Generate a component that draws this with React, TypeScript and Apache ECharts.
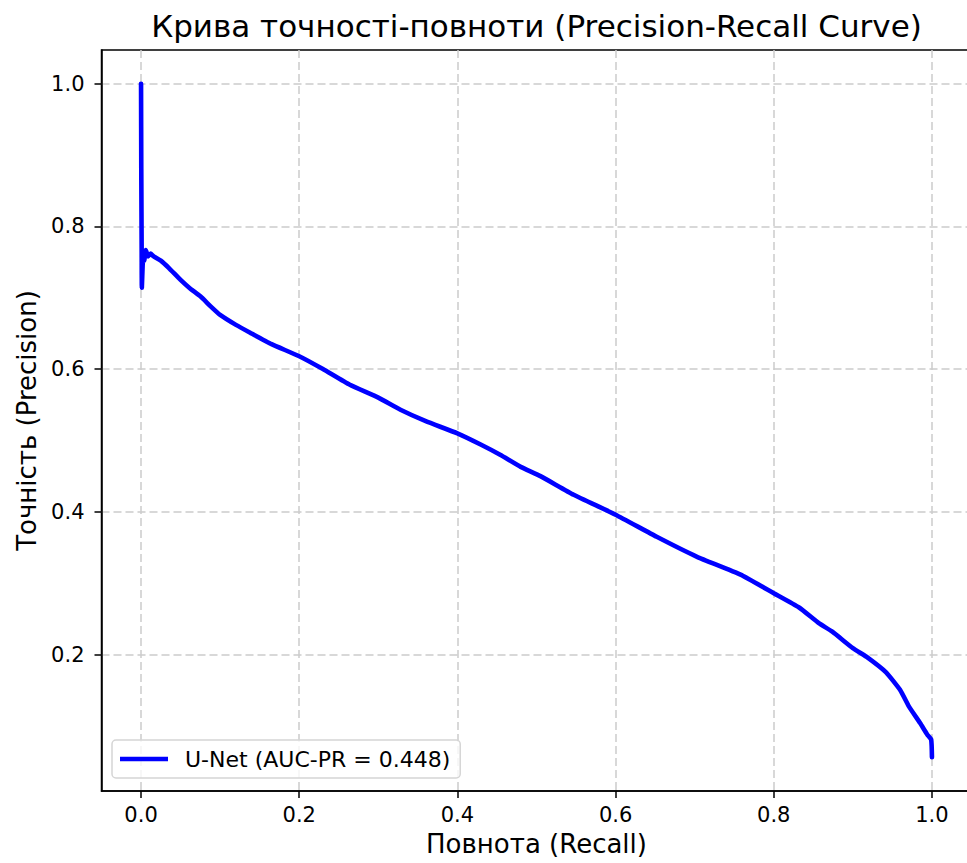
import React, { useEffect, useRef } from "react";
import * as echarts from "echarts";

const chartTitle = "Крива точності-повноти (Precision-Recall Curve)";
const xAxisName = "Повнота (Recall)";
const yAxisName = "Точність (Precision)";
const seriesName = "U-Net (AUC-PR = 0.448)";

const xTicks = [0, 0.2, 0.4, 0.6, 0.8, 1.0];
const yTicks = [0.2, 0.4, 0.6, 0.8, 1.0];

const recall = [
  0, 0.0003, 0.0008, 0.001, 0.002, 0.003, 0.004, 0.006, 0.009, 0.012, 0.016,
  0.025, 0.035, 0.05, 0.062, 0.075, 0.088, 0.1, 0.12, 0.138, 0.165, 0.2, 0.23,
  0.264, 0.3, 0.328, 0.36, 0.4, 0.43, 0.454, 0.48, 0.505, 0.547, 0.6, 0.652,
  0.703, 0.758, 0.8, 0.832, 0.857, 0.874, 0.9, 0.917, 0.942, 0.96, 0.971,
  0.985, 0.994, 0.999, 1.0,
];
const precision = [
  1.0, 0.88, 0.76, 0.714, 0.745, 0.76, 0.752, 0.767, 0.758, 0.762, 0.758,
  0.752, 0.742, 0.725, 0.713, 0.702, 0.688, 0.676, 0.662, 0.651, 0.635, 0.618,
  0.6, 0.578, 0.56, 0.543, 0.527, 0.51, 0.494, 0.48, 0.463, 0.45, 0.424, 0.396,
  0.365, 0.337, 0.312, 0.286, 0.266, 0.244, 0.232, 0.209, 0.197, 0.175, 0.15,
  0.127, 0.104, 0.088, 0.081, 0.056,
];

const FONT = "DejaVu Sans";

export default function App() {
  const ref = useRef<HTMLDivElement>(null);
  useEffect(() => {
    if (!ref.current) return;
    const chart = echarts.init(ref.current, null, { renderer: "svg" });
    const gridLine = {
      show: true,
      lineStyle: { color: "#cbcbcb", width: 1.5, type: [8, 4] as any },
    };
    chart.setOption({
      animation: false,
      backgroundColor: "#ffffff",
      title: {
        text: chartTitle,
        left: "center",
        top: 5,
        textStyle: {
          fontFamily: FONT,
          fontSize: 31,
          fontWeight: "normal",
          color: "#000",
        },
      },
      legend: {
        left: 112,
        top: 740,
        orient: "vertical",
        padding: [8, 10, 8, 8],
        icon: "rect",
        itemWidth: 48,
        itemHeight: 4.5,
        itemStyle: { color: "#0000ff", borderWidth: 0 },
        backgroundColor: "rgba(255,255,255,0.8)",
        borderColor: "#d5d5d5",
        borderWidth: 1.5,
        borderRadius: 4,
        textStyle: {
          fontFamily: FONT,
          fontSize: 22,
          color: "#000",
          padding: [0, 0, 0, 12],
        },
        data: [seriesName],
      },
      grid: {
        left: 101.5,
        right: 101.5,
        top: 50,
        bottom: 72,
        show: true,
        borderColor: "#000",
        borderWidth: 1.5,
        backgroundColor: "transparent",
      },
      xAxis: {
        type: "value",
        min: -0.05,
        max: 1.05,
        name: xAxisName,
        nameLocation: "middle",
        nameGap: 40,
        nameTextStyle: { fontFamily: FONT, fontSize: 26, color: "#000" },
        axisLine: { show: true, onZero: false, lineStyle: { color: "#000", width: 1.5 } },
        axisTick: {
          show: true,
          inside: false,
          length: 7,
          customValues: xTicks,
          lineStyle: { color: "#000", width: 1.5 },
        },
        axisLabel: {
          customValues: xTicks,
          margin: 13,
          fontFamily: FONT,
          fontSize: 21,
          color: "#000",
          formatter: (v: number) => v.toFixed(1),
        },
        splitLine: gridLine,
      },
      yAxis: {
        type: "value",
        min: 0.0088,
        max: 1.0472,
        name: yAxisName,
        nameLocation: "middle",
        nameGap: 60,
        nameTextStyle: { fontFamily: FONT, fontSize: 26, color: "#000" },
        axisLine: { show: true, onZero: false, lineStyle: { color: "#000", width: 1.5 } },
        axisTick: {
          show: true,
          inside: false,
          length: 7,
          customValues: yTicks,
          lineStyle: { color: "#000", width: 1.5 },
        },
        axisLabel: {
          customValues: yTicks,
          margin: 17,
          fontFamily: FONT,
          fontSize: 21,
          color: "#000",
          formatter: (v: number) => v.toFixed(1),
        },
        splitLine: gridLine,
      },
      series: [
        {
          name: seriesName,
          type: "line",
          data: recall.map((r, i) => [r, precision[i]]),
          symbol: "none",
          showSymbol: false,
          smooth: 0.15,
          lineStyle: { color: "#0000ff", width: 4.6, join: "round", cap: "round" },
          itemStyle: { color: "#0000ff" },
          z: 3,
        },
      ],
    });
    return () => chart.dispose();
  }, []);
  return (
    <div
      style={{
        position: "fixed",
        left: 0,
        top: 0,
        width: 967,
        height: 863,
        overflow: "hidden",
        background: "#fff",
      }}
    >
      <div ref={ref} style={{ width: 1073, height: 863 }} />
    </div>
  );
}
